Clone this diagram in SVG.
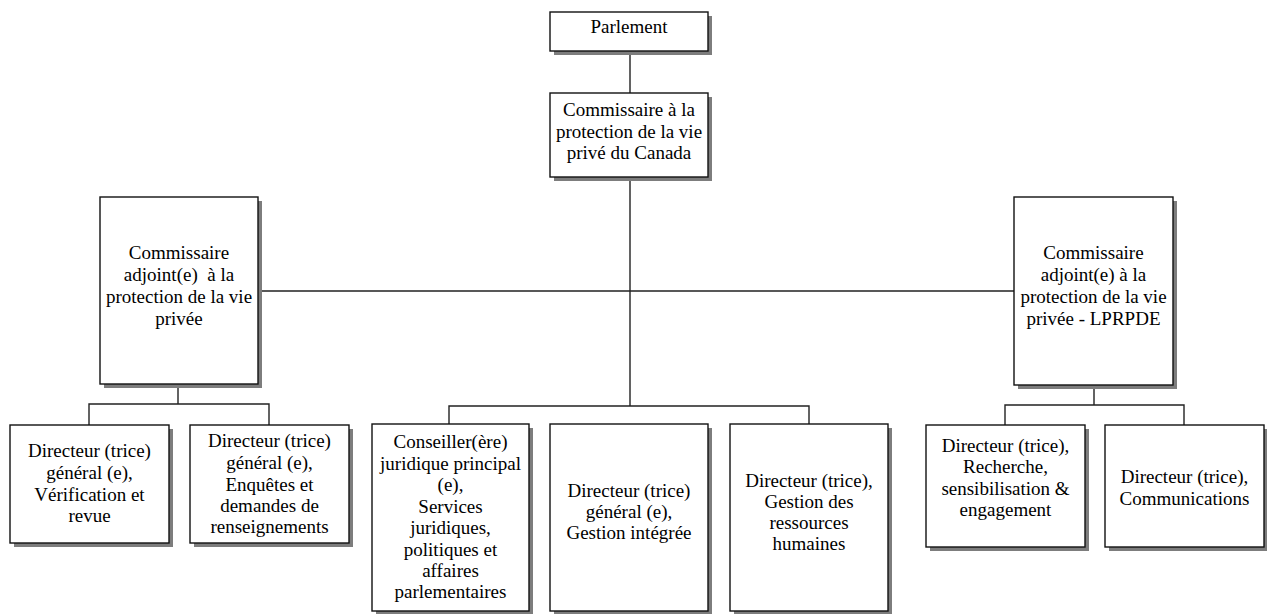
<svg xmlns="http://www.w3.org/2000/svg" width="1267" height="614" viewBox="0 0 1267 614">
<style>
.sh{fill:#7d7d7d;filter:url(#blur)}
.bx{fill:#fff;stroke:#111;stroke-width:1.4}
.t{font-family:"Liberation Serif","Times New Roman",serif;font-size:19px;fill:#000;text-anchor:middle}
.ln{stroke:#222;stroke-width:1.4;fill:none}
</style>
<defs>
<filter id="blur" x="-5%" y="-5%" width="110%" height="110%"><feGaussianBlur stdDeviation="0.5"/></filter>
</defs>
<rect width="1267" height="614" fill="#fff"/>
<g id="connectors">
<path class="ln" d="M630 51V93M630 177V406M258 291H1014M449 424V406H809V424M178 384V404M89 425V404H269V425M1094 385V405M1005 425V405H1184V425"/>
</g>
<g id="parlement">
<rect class="sh" x="554" y="16" width="158" height="39"/>
<rect class="bx" x="550" y="12" width="158" height="39"/>
<text class="t" x="629" y="33">Parlement</text>
</g>
<g id="commissaire">
<rect class="sh" x="554" y="97" width="158" height="84"/>
<rect class="bx" x="550" y="93" width="158" height="84"/>
<text class="t" x="629" y="116">Commissaire à la</text>
<text class="t" x="629" y="137.5">protection de la vie</text>
<text class="t" x="629" y="159">privé du Canada</text>
</g>
<g id="adjoint-gauche">
<rect class="sh" x="104" y="201" width="158" height="187"/>
<rect class="bx" x="100" y="197" width="158" height="187"/>
<text class="t" x="179" y="259">Commissaire</text>
<text class="t" x="179" y="281" xml:space="preserve">adjoint(e)  à la</text>
<text class="t" x="179" y="303">protection de la vie</text>
<text class="t" x="179" y="325">privée</text>
</g>
<g id="adjoint-droite">
<rect class="sh" x="1018" y="201" width="159" height="188"/>
<rect class="bx" x="1014" y="197" width="159" height="188"/>
<text class="t" x="1093.5" y="259">Commissaire</text>
<text class="t" x="1093.5" y="281">adjoint(e) à la</text>
<text class="t" x="1093.5" y="303">protection de la vie</text>
<text class="t" x="1093.5" y="325">privée - LPRPDE</text>
</g>
<g id="verification">
<rect class="sh" x="14" y="429" width="159" height="118"/>
<rect class="bx" x="10" y="425" width="159" height="118"/>
<text class="t" x="89.5" y="457">Directeur (trice)</text>
<text class="t" x="89.5" y="479">général (e),</text>
<text class="t" x="89.5" y="501">Vérification et</text>
<text class="t" x="89.5" y="522">revue</text>
</g>
<g id="enquetes">
<rect class="sh" x="194" y="429" width="159" height="118"/>
<rect class="bx" x="190" y="425" width="159" height="118"/>
<text class="t" x="269.5" y="447">Directeur (trice)</text>
<text class="t" x="269.5" y="469">général (e),</text>
<text class="t" x="269.5" y="491">Enquêtes et</text>
<text class="t" x="269.5" y="512">demandes de</text>
<text class="t" x="269.5" y="533">renseignements</text>
</g>
<g id="conseiller">
<rect class="sh" x="376" y="428" width="157" height="187"/>
<rect class="bx" x="372" y="424" width="157" height="187"/>
<text class="t" x="450.5" y="448">Conseiller(ère)</text>
<text class="t" x="450.5" y="470">juridique principal</text>
<text class="t" x="450.5" y="491">(e),</text>
<text class="t" x="450.5" y="513">Services</text>
<text class="t" x="450.5" y="534">juridiques,</text>
<text class="t" x="450.5" y="556">politiques et</text>
<text class="t" x="450.5" y="577">affaires</text>
<text class="t" x="450.5" y="598">parlementaires</text>
</g>
<g id="gestion-integree">
<rect class="sh" x="554" y="428" width="158" height="187"/>
<rect class="bx" x="550" y="424" width="158" height="187"/>
<text class="t" x="629" y="497">Directeur (trice)</text>
<text class="t" x="629" y="518">général (e),</text>
<text class="t" x="629" y="539">Gestion intégrée</text>
</g>
<g id="ressources-humaines">
<rect class="sh" x="734" y="428" width="158" height="187"/>
<rect class="bx" x="730" y="424" width="158" height="187"/>
<text class="t" x="809" y="487">Directeur (trice),</text>
<text class="t" x="809" y="508">Gestion des</text>
<text class="t" x="809" y="529">ressources</text>
<text class="t" x="809" y="550">humaines</text>
</g>
<g id="recherche">
<rect class="sh" x="930" y="429" width="159" height="122"/>
<rect class="bx" x="926" y="425" width="159" height="122"/>
<text class="t" x="1005.5" y="452">Directeur (trice),</text>
<text class="t" x="1005.5" y="473">Recherche,</text>
<text class="t" x="1005.5" y="495">sensibilisation &amp;</text>
<text class="t" x="1005.5" y="516">engagement</text>
</g>
<g id="communications">
<rect class="sh" x="1109" y="429" width="159" height="122"/>
<rect class="bx" x="1105" y="425" width="159" height="122"/>
<text class="t" x="1184.5" y="483">Directeur (trice),</text>
<text class="t" x="1184.5" y="505">Communications</text>
</g>
</svg>
